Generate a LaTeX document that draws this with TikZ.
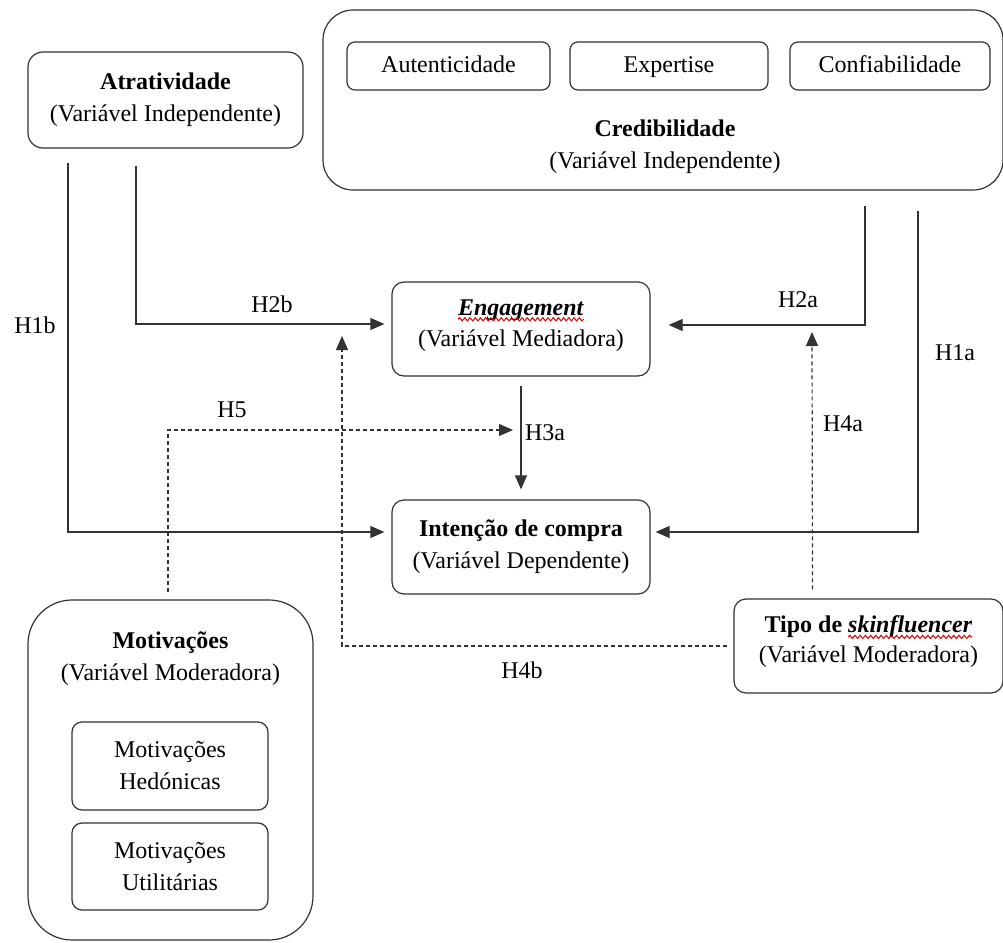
\documentclass[tikz,border=0pt]{standalone}
\usepackage{fontspec}
\setmainfont{Liberation Serif}
\usetikzlibrary{arrows.meta,decorations.pathmorphing}
\begin{document}
\begin{tikzpicture}[x=0.5pt,y=-0.5pt,
  every node/.style={font=\fontsize{12}{16}\selectfont},
  box/.style={draw=black!80, line width=0.6pt, align=center, inner sep=0pt},
  sbox/.style={box, rounded corners=4pt, text height=8.5pt, text depth=2.5pt, minimum height=24pt},
  conn/.style={draw=black!80, line width=0.6pt},
  arr/.style={conn, -{Triangle[length=7pt,width=6pt]}},
  dsh/.style={arr, dash pattern=on 2pt off 1.5pt},
  lbl/.style={inner sep=0pt, outer sep=0pt},
  spell/.style={draw=red!85!black, line width=0.5pt, decorate, decoration={snake, amplitude=0.8pt, segment length=2.6pt}}]
\useasboundingbox (0,0) rectangle (1003,943);
% boxes
\node[box, rounded corners=7.5pt, minimum width=137.5pt, minimum height=48pt] (atr) at (165.5,100) {\textbf{Atratividade}\\(Variável Independente)};
\node[box, rounded corners=15pt, minimum width=340pt, minimum height=90pt] (cred) at (663,100) {};
\node[sbox, minimum width=101.5pt] (aut) at (448.5,66) {Autenticidade};
\node[sbox, minimum width=99pt] (exp) at (669,66) {Expertise};
\node[sbox, minimum width=100pt] (conf) at (890,66) {Confiabilidade};
\node[lbl, align=center] (credtxt) at (665,147) {\textbf{Credibilidade}\\(Variável Independente)};
\node[box, rounded corners=6pt, minimum width=129pt, minimum height=47pt] (eng) at (521,329) {};
\node[lbl] (engw) at (521,310) {\textbf{\textit{Engagement}}};
\node[lbl] (engs) at (521,341) {(Variável Mediadora)};
\draw[spell] ([yshift=-2pt]engw.base west) -- ([yshift=-2pt]engw.base east);
\node[box, rounded corners=6pt, minimum width=129pt, minimum height=47pt] (int) at (521,547) {\textbf{Intenção de compra}\\(Variável Dependente)};
\node[box, rounded corners=6pt, minimum width=134.5pt, minimum height=47pt] (tipo) at (868.5,646) {};
\node[lbl] (tipol) at (868.5,627) {\textbf{Tipo de \textit{skinfluencer}}};
\node[lbl] (tipom) at (868.5,657) {(Variável Moderadora)};
\node[lbl, anchor=base east] (tipos) at (tipol.base east) {\phantom{\textbf{\textit{skinfluencer}}}};
\draw[spell] ([yshift=-2pt]tipos.base west) -- ([yshift=-2pt]tipos.base east);
\node[box, rounded corners=22pt, minimum width=142.5pt, minimum height=170pt] (mot) at (170.5,770) {};
\node[lbl, align=center] (mottxt) at (170.5,659) {\textbf{Motivações}\\(Variável Moderadora)};
\node[box, rounded corners=5pt, minimum width=98pt, minimum height=44pt] (hed) at (170,766) {Motivações\\Hedónicas};
\node[box, rounded corners=5pt, minimum width=98pt, minimum height=43.5pt] (uti) at (170,866.5) {Motivações\\Utilitárias};
% free ends
\coordinate (h5e) at (513,430);
\coordinate (h4be) at (342,336);
\coordinate (h4ae) at (812,332);
% connectors
\draw[arr] ([xshift=-48.75pt,yshift=-7pt]atr.south) |- ([xshift=-3.5pt,yshift=7.5pt]int.west);
\draw[arr] ([xshift=-14.75pt,yshift=-8.5pt]atr.south) |- ([xshift=-3.5pt,yshift=2.5pt]eng.west);
\draw[arr] ([xshift=101pt,yshift=-7.5pt]cred.south) |- ([xshift=9pt,yshift=2pt]eng.east);
\draw[arr] ([xshift=127.5pt,yshift=-10pt]cred.south) |- ([xshift=2.5pt,yshift=7.5pt]int.east);
\draw[arr, shorten <=4.5pt, shorten >=5pt] (eng.south) -- (int.north);
\draw[dsh] ([xshift=-1.25pt,yshift=3.5pt]mot.north) |- (h5e);
\draw[dsh] ([xshift=-3pt]tipo.west) -| (h4be);
\draw[dsh] ([xshift=-28pt,yshift=4.5pt]tipo.north) -- (h4ae);
% labels
\node[lbl] (lh1b) at (35,325) {H1b};
\node[lbl] (lh2b) at (272,304) {H2b};
\node[lbl] (lh2a) at (798,300) {H2a};
\node[lbl] (lh1a) at (955,353) {H1a};
\node[lbl] (lh3a) at (545,433) {H3a};
\node[lbl] (lh5) at (232,410) {H5};
\node[lbl] (lh4a) at (843,424) {H4a};
\node[lbl] (lh4b) at (522,670) {H4b};
\end{tikzpicture}
\end{document}
